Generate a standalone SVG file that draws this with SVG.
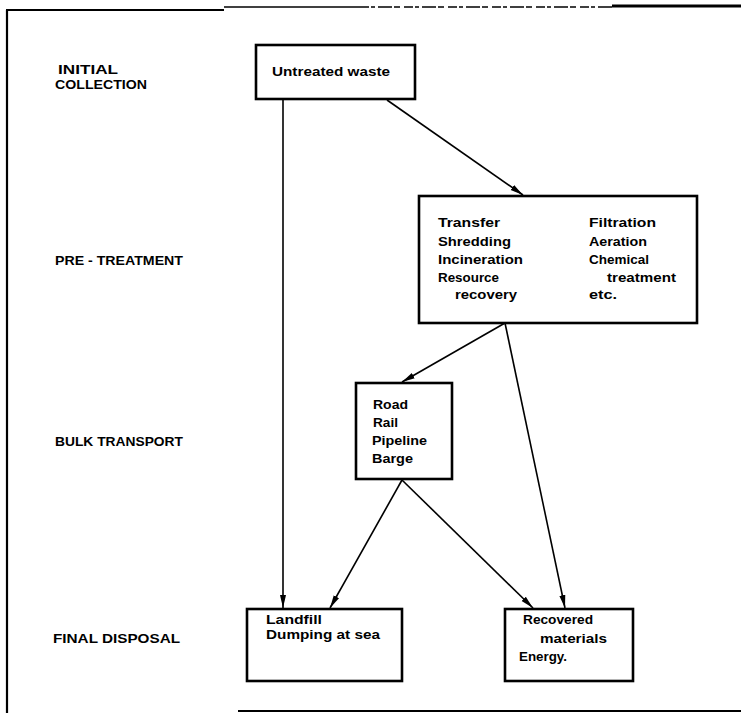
<svg xmlns="http://www.w3.org/2000/svg" width="741" height="713" viewBox="0 0 741 713">
  <style>
    .frame { stroke: #000; fill: none; }
    .box { fill: #fff; stroke: #000; stroke-width: 2.6; }
    .stage { font-family: "Liberation Sans", Arial, sans-serif; font-weight: bold; font-size: 13px; fill: #000; }
    .item { font-family: "Liberation Sans", Arial, sans-serif; font-weight: bold; font-size: 12px; fill: #000; }
    .edge { stroke: #000; stroke-width: 1.6; fill: none; marker-end: url(#arrow); }
  </style>
  <defs>
    <marker id="arrow" viewBox="0 0 13 8" refX="13" refY="4" markerWidth="13" markerHeight="8" markerUnits="userSpaceOnUse" orient="auto">
      <path d="M0,1 L13,4 L0,7 Z" fill="#000"/>
    </marker>
  </defs>

  <rect width="741" height="713" fill="#fff"/>

  <!-- page frame -->
  <g id="frame" class="frame">
    <line x1="7" y1="10" x2="7" y2="713" stroke-width="2.2"/>
    <line x1="6" y1="10" x2="224" y2="10" stroke-width="2.2"/>
    <line x1="224" y1="7" x2="360" y2="7" stroke-width="1.4"/>
    <line x1="360" y1="7" x2="612" y2="7" stroke-width="1.6" stroke-dasharray="9 2 4 3 14 2 6 4"/>
    <line x1="612" y1="6" x2="741" y2="6" stroke-width="2.8"/>
    <line x1="238" y1="711" x2="741" y2="711" stroke-width="2"/>
  </g>

  <!-- stage labels -->
  <g id="stage-labels" class="stage">
    <text x="58" y="74" font-size="12.5" textLength="60" lengthAdjust="spacingAndGlyphs">INITIAL</text>
    <text x="55" y="89" font-size="12.5" textLength="92" lengthAdjust="spacingAndGlyphs">COLLECTION</text>
    <text x="55" y="265" textLength="128" lengthAdjust="spacingAndGlyphs">PRE - TREATMENT</text>
    <text x="55" y="446" textLength="128" lengthAdjust="spacingAndGlyphs">BULK TRANSPORT</text>
    <text x="53" y="643" textLength="127" lengthAdjust="spacingAndGlyphs">FINAL DISPOSAL</text>
  </g>

  <!-- connectors -->
  <g id="connectors">
    <line class="edge" x1="283" y1="100" x2="283" y2="608"/>
    <line class="edge" x1="387" y1="100" x2="523" y2="195"/>
    <line class="edge" x1="505" y1="323" x2="402" y2="382"/>
    <line class="edge" x1="505" y1="323" x2="565" y2="608"/>
    <line class="edge" x1="402" y1="480" x2="330" y2="608"/>
    <line class="edge" x1="402" y1="480" x2="533" y2="608"/>
  </g>

  <g id="untreated-waste">
    <rect class="box" x="256" y="45" width="159" height="54"/>
    <text class="item" x="272" y="76" textLength="118" lengthAdjust="spacingAndGlyphs">Untreated  waste</text>
  </g>

  <g id="pre-treatment">
    <rect class="box" x="419" y="196" width="278" height="127"/>
    <g class="item">
      <text x="438" y="227" textLength="62" lengthAdjust="spacingAndGlyphs">Transfer</text>
      <text x="438" y="246" textLength="73" lengthAdjust="spacingAndGlyphs">Shredding</text>
      <text x="438" y="264" textLength="85" lengthAdjust="spacingAndGlyphs">Incineration</text>
      <text x="438" y="282" textLength="61" lengthAdjust="spacingAndGlyphs">Resource</text>
      <text x="455" y="299" textLength="62" lengthAdjust="spacingAndGlyphs">recovery</text>
      <text x="589" y="227" textLength="67" lengthAdjust="spacingAndGlyphs">Filtration</text>
      <text x="589" y="246" textLength="58" lengthAdjust="spacingAndGlyphs">Aeration</text>
      <text x="589" y="264" textLength="60" lengthAdjust="spacingAndGlyphs">Chemical</text>
      <text x="607" y="282" textLength="69" lengthAdjust="spacingAndGlyphs">treatment</text>
      <text x="589" y="299" textLength="28" lengthAdjust="spacingAndGlyphs">etc.</text>
    </g>
  </g>

  <g id="bulk-transport">
    <rect class="box" x="356" y="383" width="96" height="96"/>
    <g class="item">
      <text x="373" y="409" textLength="35" lengthAdjust="spacingAndGlyphs">Road</text>
      <text x="373" y="427" textLength="25" lengthAdjust="spacingAndGlyphs">Rail</text>
      <text x="372" y="445" textLength="55" lengthAdjust="spacingAndGlyphs">Pipeline</text>
      <text x="372" y="463" textLength="41" lengthAdjust="spacingAndGlyphs">Barge</text>
    </g>
  </g>

  <g id="landfill">
    <rect class="box" x="247" y="609" width="155" height="72"/>
    <g class="item">
      <text x="266" y="624" textLength="56" lengthAdjust="spacingAndGlyphs">Landfill</text>
      <text x="266" y="639" textLength="114" lengthAdjust="spacingAndGlyphs">Dumping  at  sea</text>
    </g>
  </g>

  <g id="recovered">
    <rect class="box" x="505" y="609" width="128" height="72"/>
    <g class="item">
      <text x="523" y="624" textLength="70" lengthAdjust="spacingAndGlyphs">Recovered</text>
      <text x="540" y="643" textLength="67" lengthAdjust="spacingAndGlyphs">materials</text>
      <text x="519" y="661" textLength="48" lengthAdjust="spacingAndGlyphs">Energy.</text>
    </g>
  </g>
</svg>
